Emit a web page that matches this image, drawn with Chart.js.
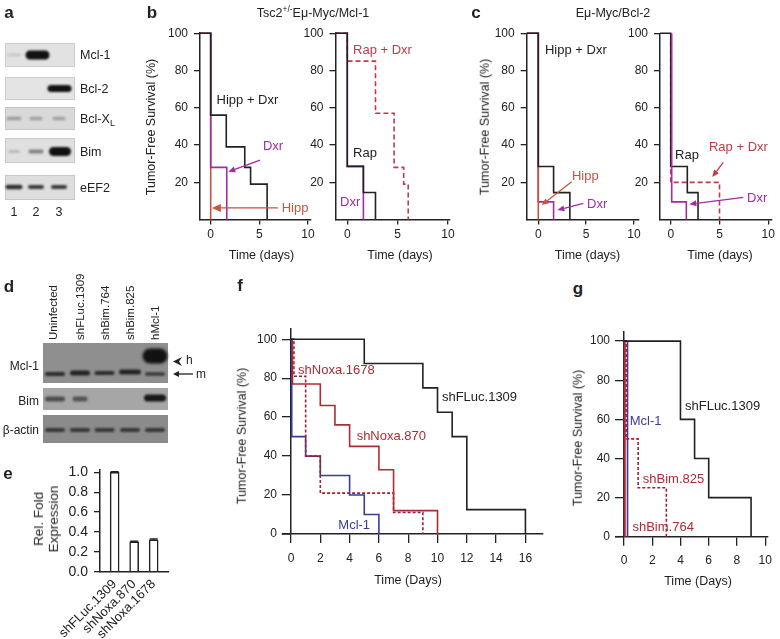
<!DOCTYPE html>
<html><head><meta charset="utf-8">
<script src="https://cdn.jsdelivr.net/npm/chart.js@4.4.1/dist/chart.umd.min.js"></script>
<style>
html,body{margin:0;padding:0;background:#fff;}
#root{position:relative;width:780px;height:639px;overflow:hidden;background:#fff;font-family:'Liberation Sans',Arial,Helvetica,sans-serif;color:#222;}
#root canvas{position:absolute;}
.t{position:absolute;white-space:nowrap;line-height:1;}
sub,sup{line-height:0;}
</style></head><body><div id="root"></div>
<script>
// ================= DATA =================
// Kaplan-Meier steps: times (days) at which survival changes, and survival (%) after each change
// Panel b, left (Tsc2+/- Eμ-Myc/Mcl-1)
const bL_hipp_t    = [0, 0];                         const bL_hipp_s    = [100, 0];
const bL_dxr_t     = [0, 0, 1.65];                   const bL_dxr_s     = [100, 28, 0];
const bL_hippDxr_t = [0, 0, 1.6, 3.5, 4.1, 5.8];     const bL_hippDxr_s = [100, 56, 39, 28, 19, 0];
// Panel b, right
const bR_dxr_t     = [0, 0, 1.6];                    const bR_dxr_s     = [100, 28.5, 0];
const bR_rap_t     = [0, 0, 1.6, 2.8];               const bR_rap_s     = [100, 28.5, 14.5, 0];
const bR_rapDxr_t  = [0, 0, 2.8, 4.65, 5.6, 6.05];   const bR_rapDxr_s  = [100, 85, 57, 28, 19, 0];
// Panel c, left (Eμ-Myc/Bcl-2)
const cL_dxr_t     = [0, 0, 1.6];                    const cL_dxr_s     = [100, 9.5, 0];
const cL_hipp_t    = [0, 0];                         const cL_hipp_s    = [100, 0];
const cL_hippDxr_t = [0, 0, 1.6, 3.3];               const cL_hippDxr_s = [100, 28.5, 14.5, 0];
// Panel c, right
const cR_rapDxr_t  = [0, 0, 5.0];                    const cR_rapDxr_s  = [100, 20, 0];
const cR_rap_t     = [0, 0, 1.7, 2.8];               const cR_rap_s     = [100, 28.5, 14.5, 0];
const cR_dxr_t     = [0.1, 0.1, 1.6];                const cR_dxr_s     = [100, 9.5, 0];
// Panel f
const f_fluc_t  = [0, 5, 9, 10, 11, 12, 16];         const f_fluc_s  = [100, 87.5, 75, 62.5, 50, 12.5, 0];
const f_n870_t  = [0, 0.1, 2, 3, 4, 6, 7, 10];       const f_n870_s  = [100, 77, 66, 56, 45, 33, 12, 0];
const f_n1678_t = [0, 0.2, 1, 2, 7, 9];              const f_n1678_s = [100, 81, 40, 21, 11, 0];
const f_mcl_t   = [0, 0.05, 1, 2, 4, 5, 6];          const f_mcl_s   = [100, 50, 40, 30, 20, 10, 0];
// Panel g
const g_fluc_t  = [0, 4, 5, 6, 9];                   const g_fluc_s  = [100, 60, 40, 20, 0];
const g_b825_t  = [0, 0.15, 1, 3];                   const g_b825_s  = [100, 50, 25, 0];
const g_mcl_t   = [0, 0.25];                         const g_mcl_s   = [100, 0];
const g_b764_t  = [0, 0.05];                         const g_b764_s  = [100, 0];
// Panel e
const e_cats = ['shFLuc.1309', 'shNoxa.870', 'shNoxa.1678'];
const e_vals = [1.0, 0.30, 0.32];
const e_errs = [0.006, 0.006, 0.008];
// Tick labels
const bcXTicks = [0, 5, 10];
const bcYTicks = [20, 40, 60, 80, 100];
const fXTicks  = [0, 2, 4, 6, 8, 10, 12, 14, 16];
const gXTicks  = [0, 2, 4, 6, 8, 10];
const fgYTicks = [0, 20, 40, 60, 80, 100];
const eYTicks  = [0, 0.2, 0.4, 0.6, 0.8, 1.0];

// ================= STYLE =================
const FONT = "'Liberation Sans', Arial, Helvetica, sans-serif";
Chart.defaults.font.family = FONT;
const COL = {k:'#222', mag:'#a22ca0', hipp:'#c5553f', rd:'#c23a47', red:'#ad2b34', redd:'#9e2236', blue:'#3b3b99'};
const root = document.getElementById('root');

function T(html, x, y, o = {}) {
  const d = document.createElement('div');
  d.className = 't'; d.innerHTML = html;
  d.style.left = x + 'px'; d.style.top = y + 'px';
  d.style.fontSize = (o.size || 12.5) + 'px';
  if (o.bold) d.style.fontWeight = 'bold';
  if (o.color) d.style.color = o.color;
  if (o.lh) d.style.lineHeight = o.lh;
  if (o.ta) d.style.textAlign = o.ta;
  let tr = 'translate(-50%,-50%)';
  if (o.rot) tr = 'translate(-50%,-50%) rotate(-90deg)';
  else if (o.align === 'left') tr = 'translate(0,-50%)';
  else if (o.align === 'right') tr = 'translate(-100%,-50%)';
  if (o.tr) { tr = o.tr; d.style.transformOrigin = '0 0'; }
  d.style.transform = tr;
  root.appendChild(d);
}

function mkCanvas(b) {
  const cv = document.createElement('canvas');
  cv.width = b.w; cv.height = b.h;
  cv.style.left = b.x + 'px'; cv.style.top = b.y + 'px';
  cv.style.width = b.w + 'px'; cv.style.height = b.h + 'px';
  root.appendChild(cv);
  return cv;
}

function arrow(ctx, x1, y1, x2, y2, color, hl, hw) {
  const ang = Math.atan2(y2 - y1, x2 - x1);
  const bx = x2 - hl * Math.cos(ang), by = y2 - hl * Math.sin(ang);
  ctx.strokeStyle = color; ctx.fillStyle = color; ctx.lineWidth = 1.3;
  ctx.beginPath(); ctx.moveTo(x1, y1); ctx.lineTo(bx, by); ctx.stroke();
  ctx.beginPath(); ctx.moveTo(x2, y2);
  ctx.lineTo(bx + hw * Math.sin(ang), by - hw * Math.cos(ang));
  ctx.lineTo(bx - hw * Math.sin(ang), by + hw * Math.cos(ang));
  ctx.closePath(); ctx.fill();
}

function notesPlugin(spec) {
  return {
    id: 'notes',
    afterDraw(chart) {
      const {ctx, chartArea} = chart; const X = chart.scales.x, Y = chart.scales.y;
      ctx.save();
      if (spec.xExt) {
        ctx.strokeStyle = COL.k; ctx.lineWidth = 1.5;
        ctx.beginPath(); ctx.moveTo(chartArea.left - spec.xExt, chartArea.bottom); ctx.lineTo(chartArea.left, chartArea.bottom); ctx.stroke();
      }
      (spec.arrows || []).forEach(a => arrow(ctx, X.getPixelForValue(a.x1), Y.getPixelForValue(a.y1), X.getPixelForValue(a.x2), Y.getPixelForValue(a.y2), a.color, a.hl || 7, a.hw || 3));
      (spec.notes || []).forEach(n => {
        ctx.font = (n.size || 13) + 'px ' + FONT; ctx.fillStyle = n.color;
        ctx.textAlign = 'left'; ctx.textBaseline = 'middle';
        ctx.fillText(n.text, X.getPixelForValue(n.x), Y.getPixelForValue(n.y));
      });
      if (spec.after) spec.after(chart, ctx);
      ctx.restore();
    }
  };
}

function axisOpts(tl, pad, size, w, fitFn, ticksArr, fmt) {
  return {
    afterBuildTicks: s => { s.ticks = ticksArr.map(v => ({value: v})); },
    afterFit: fitFn,
    grid: {display: true, drawOnChartArea: false, drawTicks: true, tickLength: tl, color: COL.k, lineWidth: 1.3},
    border: {display: true, color: COL.k, width: w || 1.5},
    ticks: {color: COL.k, font: {size: size || 12}, padding: pad, maxRotation: 0, minRotation: 0, autoSkip: false, callback: fmt || (v => String(v))}
  };
}

function km(spec) {
  const b = spec.box, a = spec.area;
  const cv = mkCanvas(b);
  const datasets = spec.series.map(s => {
    const pts = s.t.map((t, j) => ({x: t, y: s.s[j]}));
    if (s.fromAxis) pts.unshift({x: spec.xMin, y: s.s[0]});
    return {data: pts, borderColor: s.color, borderWidth: s.width || 1.6, borderDash: s.dash || [],
      stepped: 'before', pointRadius: 0, pointHoverRadius: 0, fill: false, tension: 0, clip: false,
      order: s.order, borderCapStyle: 'butt', borderJoinStyle: 'miter'};
  });
  const xo = axisOpts(spec.xtl, spec.xpad, 12, 1.5, s => { s.height = b.y + b.h - a.b; }, spec.xTicks);
  const yo = axisOpts(spec.ytl, spec.ypad, 12, 1.5, s => { s.width = a.l - b.x; }, spec.yTicks);
  return new Chart(cv, {
    type: 'line', data: {datasets},
    options: {
      responsive: false, animation: false, devicePixelRatio: 1, events: [],
      layout: {padding: {left: 0, top: a.t - b.y, right: b.x + b.w - a.r, bottom: 0}},
      plugins: {legend: {display: false}, tooltip: {enabled: false}},
      scales: {
        x: Object.assign({type: 'linear', min: spec.xMin, max: spec.xMax}, xo),
        y: Object.assign({type: 'linear', min: spec.yMin, max: spec.yMax}, yo)
      }
    },
    plugins: [notesPlugin(spec)]
  });
}

// ================= BLOTS (panels a, d) =================
(function blots() {
  const cv = mkCanvas({x: 0, y: 0, w: 215, h: 450});
  const g = cv.getContext('2d');
  function box(x, y, w, h, bg, border) {
    g.fillStyle = bg; g.fillRect(x, y, w, h);
    if (border) { g.strokeStyle = border; g.lineWidth = 1; g.strokeRect(x + 0.5, y + 0.5, w - 1, h - 1); }
  }
  function band(cx, cy, w, h, alpha, blur) {
    g.save(); g.filter = 'blur(' + (blur || 1.1) + 'px)'; g.globalAlpha = alpha;
    g.strokeStyle = '#111'; g.lineCap = 'round'; g.lineWidth = h;
    g.beginPath(); g.moveTo(cx - w / 2 + h / 2, cy); g.lineTo(cx + w / 2 - h / 2 + 0.01, cy); g.stroke();
    g.restore();
  }
  // panel a
  box(5, 43, 70, 24, '#e2e2e2', '#cdcdcd'); band(14, 55, 14, 3, 0.12); band(37.5, 55, 24, 9, 1);
  box(5, 77, 70, 23, '#e4e4e4', '#cdcdcd'); band(59.5, 88.5, 24, 7, 1);
  box(5, 107, 70, 23, '#d9d9d9', '#c6c6c6'); band(14, 118.5, 15, 3.5, 0.3); band(36, 118.5, 13, 3.5, 0.28); band(59, 118.5, 13, 3.5, 0.28);
  box(5, 138, 70, 25, '#e0e0e0', '#cacaca'); band(14, 151.5, 12, 3, 0.18); band(36, 151.5, 15, 4, 0.45); band(60, 151.5, 22, 9, 1);
  box(5, 175, 70, 25, '#dedede', '#c8c8c8'); band(14, 187, 17, 4.5, 0.85); band(36, 187, 16, 4, 0.8); band(59, 187, 16, 4, 0.8);
  // panel d
  box(43, 343, 125, 40, '#8f8f8f'); band(55, 374, 20, 4, 0.8); band(80, 373, 20, 5, 0.85); band(104.5, 373, 20, 4, 0.8); band(130, 372, 22, 5, 0.85); band(155, 374, 20, 3.5, 0.7);
  band(155, 356, 25, 15, 1, 1.6);
  box(43, 388, 125, 22, '#a6a6a6'); band(55, 399, 20, 5, 0.6); band(80, 399, 15, 5, 0.55); band(155, 398, 22, 7, 0.95);
  box(43, 415, 125, 28, '#8b8b8b'); [55, 80, 104.5, 130, 155].forEach(x => band(x, 430, 20, 4, 0.7));
  // h / m markers
  g.fillStyle = COL.k;
  g.beginPath(); g.moveTo(173, 361.5); g.lineTo(182, 357); g.lineTo(179, 361.5); g.lineTo(182, 366); g.closePath(); g.fill();
  arrow(g, 193, 374, 173, 374, COL.k, 6, 3);
})();

// ================= KM CHARTS =================
const bcCommon = {yMin: 0, yMax: 100, xTicks: bcXTicks, yTicks: bcYTicks, xtl: 5, xpad: 3, ytl: 6, ypad: 6};

km(Object.assign({}, bcCommon, {
  box: {x: 150, y: 20, w: 175, h: 230}, area: {l: 200, r: 311, t: 33, b: 219.5}, xMin: -1.1, xMax: 10.31,
  series: [
    {t: bL_hippDxr_t, s: bL_hippDxr_s, color: COL.k, order: 0, fromAxis: true},
    {t: bL_dxr_t, s: bL_dxr_s, color: COL.mag, order: 1, fromAxis: true},
    {t: bL_hipp_t, s: bL_hipp_s, color: COL.hipp, order: 2, fromAxis: true}
  ],
  notes: [
    {x: 0.6, y: 64, text: 'Hipp + Dxr', color: COL.k},
    {x: 5.37, y: 39, text: 'Dxr', color: COL.mag},
    {x: 7.3, y: 6.2, text: 'Hipp', color: COL.hipp}
  ],
  arrows: [
    {x1: 5.07, y1: 31.9, x2: 1.81, y2: 25.6, color: COL.mag},
    {x1: 6.9, y1: 6.2, x2: 0.12, y2: 6.2, color: COL.hipp, hl: 9, hw: 4}
  ]
}));

km(Object.assign({}, bcCommon, {
  box: {x: 295, y: 20, w: 170, h: 230}, area: {l: 335.5, r: 449.5, t: 33, b: 219.5}, xMin: -1.17, xMax: 10.15,
  series: [
    {t: bR_rap_t, s: bR_rap_s, color: COL.k, order: 0, fromAxis: true},
    {t: bR_dxr_t, s: bR_dxr_s, color: COL.mag, order: 1, fromAxis: true},
    {t: bR_rapDxr_t, s: bR_rapDxr_s, color: COL.rd, dash: [5, 3], order: 2, fromAxis: true}
  ],
  notes: [
    {x: 0.57, y: 90.9, text: 'Rap + Dxr', color: COL.rd},
    {x: 0.57, y: 35.7, text: 'Rap', color: COL.k},
    {x: -0.72, y: 9.4, text: 'Dxr', color: COL.mag}
  ]
}));

km(Object.assign({}, bcCommon, {
  box: {x: 485, y: 20, w: 165, h: 230}, area: {l: 526.7, r: 638.3, t: 33.3, b: 219.6}, xMin: -1.21, xMax: 10.45,
  series: [
    {t: cL_hippDxr_t, s: cL_hippDxr_s, color: COL.k, order: 0, fromAxis: true},
    {t: cL_hipp_t, s: cL_hipp_s, color: COL.hipp, order: 1, fromAxis: true},
    {t: cL_dxr_t, s: cL_dxr_s, color: COL.mag, order: 2, fromAxis: true}
  ],
  notes: [
    {x: 0.7, y: 90.9, text: 'Hipp + Dxr', color: COL.k},
    {x: 3.52, y: 23, text: 'Hipp', color: COL.hipp},
    {x: 5.09, y: 8.4, text: 'Dxr', color: COL.mag}
  ],
  arrows: [
    {x1: 3.49, y1: 20.3, x2: 0.36, y2: 7.8, color: COL.hipp},
    {x1: 4.71, y1: 8.7, x2: 1.99, y2: 5.1, color: COL.mag}
  ]
}));

km(Object.assign({}, bcCommon, {
  box: {x: 620, y: 20, w: 160, h: 230}, area: {l: 660, r: 771.7, t: 33.3, b: 219.6}, xMin: -1.1, xMax: 10.35,
  series: [
    {t: cR_dxr_t, s: cR_dxr_s, color: COL.mag, order: 0, fromAxis: false},
    {t: cR_rap_t, s: cR_rap_s, color: COL.k, order: 1, fromAxis: true},
    {t: cR_rapDxr_t, s: cR_rapDxr_s, color: COL.rd, dash: [5, 3], order: 2, fromAxis: false}
  ],
  notes: [
    {x: 0.44, y: 34.6, text: 'Rap', color: COL.k},
    {x: 3.92, y: 39, text: 'Rap + Dxr', color: COL.rd},
    {x: 7.82, y: 11.5, text: 'Dxr', color: COL.mag}
  ],
  arrows: [
    {x1: 5.39, y1: 30.7, x2: 4.26, y2: 22.9, color: COL.rd},
    {x1: 7.44, y1: 11.9, x2: 1.91, y2: 8.3, color: COL.mag}
  ]
}));

km({
  box: {x: 245, y: 315, w: 315, h: 290}, area: {l: 291, r: 543, t: 328.3, b: 534},
  xMin: 0, xMax: 17.2, yMin: 0, yMax: 105.6, xTicks: fXTicks, yTicks: fgYTicks,
  xtl: 9, xpad: 8, ytl: 9, ypad: 5, xExt: 9.3,
  series: [
    {t: f_fluc_t, s: f_fluc_s, color: COL.k, order: 0},
    {t: f_n870_t, s: f_n870_s, color: COL.red, order: 1},
    {t: f_n1678_t, s: f_n1678_s, color: COL.redd, dash: [3, 2], order: 2},
    {t: f_mcl_t, s: f_mcl_s, color: COL.blue, order: 3}
  ],
  notes: [
    {x: 0.48, y: 84.1, text: 'shNoxa.1678', color: COL.red},
    {x: 10.3, y: 70.3, text: 'shFLuc.1309', color: COL.k},
    {x: 4.48, y: 49.9, text: 'shNoxa.870', color: COL.red},
    {x: 3.23, y: 4.6, text: 'Mcl-1', color: COL.blue}
  ]
});

km({
  box: {x: 575, y: 318, w: 205, h: 290}, area: {l: 624, r: 772, t: 331.7, b: 536.7},
  xMin: 0, xMax: 10.19, yMin: 0, yMax: 104.8, xTicks: gXTicks, yTicks: fgYTicks,
  xtl: 9, xpad: 8, ytl: 9, ypad: 5, xExt: 9,
  series: [
    {t: g_fluc_t, s: g_fluc_s, color: COL.k, order: 0},
    {t: g_b825_t, s: g_b825_s, color: COL.redd, dash: [3, 2], order: 1},
    {t: g_mcl_t, s: g_mcl_s, color: COL.blue, order: 2},
    {t: g_b764_t, s: g_b764_s, color: COL.red, width: 2.2, order: 3}
  ],
  notes: [
    {x: 4.32, y: 66.4, text: 'shFLuc.1309', color: COL.k},
    {x: 0.41, y: 58.8, text: 'Mcl-1', color: COL.blue},
    {x: 1.33, y: 29.3, text: 'shBim.825', color: COL.red},
    {x: 0.6, y: 4.6, text: 'shBim.764', color: COL.red}
  ]
});

// ================= BAR CHART (panel e) =================
(function barE() {
  const b = {x: 30, y: 455, w: 150, h: 184}, a = {l: 100, r: 168.3, t: 469.8, b: 571.7};
  const cv = mkCanvas(b);
  const yo = axisOpts(6, 6, 14, 1.5, s => { s.width = a.l - b.x; }, eYTicks, v => v.toFixed(1));
  new Chart(cv, {
    type: 'bar',
    data: {datasets: [{data: e_cats.map((c, i) => ({x: i, y: e_vals[i]})), backgroundColor: '#fff',
      borderColor: COL.k, borderWidth: 1.5, barThickness: 9, borderSkipped: 'start'}]},
    options: {
      responsive: false, animation: false, devicePixelRatio: 1, events: [],
      layout: {padding: {left: 0, top: a.t - b.y, right: b.x + b.w - a.r, bottom: 0}},
      plugins: {legend: {display: false}, tooltip: {enabled: false}},
      scales: {
        x: {type: 'linear', min: -0.75, max: 2.75, offset: false,
          afterBuildTicks: s => { s.ticks = e_cats.map((c, i) => ({value: i})); },
          afterFit: s => { s.height = b.y + b.h - a.b; },
          grid: {display: false, drawTicks: false, offset: false},
          border: {display: true, color: COL.k, width: 1.5},
          ticks: {color: COL.k, font: {size: 13}, minRotation: 45, maxRotation: 45, padding: 5, autoSkip: false,
            callback: v => e_cats[v]}},
        y: Object.assign({type: 'linear', min: 0, max: 1.025}, yo)
      }
    },
    plugins: [notesPlugin({after: (chart, ctx) => {
      const X = chart.scales.x, Y = chart.scales.y;
      ctx.strokeStyle = COL.k; ctx.lineWidth = 1.5;
      e_vals.forEach((v, i) => {
        const px = X.getPixelForValue(i), p0 = Y.getPixelForValue(v), p1 = Y.getPixelForValue(v + e_errs[i]);
        ctx.beginPath(); ctx.moveTo(px, p0); ctx.lineTo(px, p1); ctx.moveTo(px - 4, p1); ctx.lineTo(px + 4, p1); ctx.stroke();
      });
    }})]
  });
})();

// ================= TEXT =================
// panel letters
T('a', 9, 12, {size: 17, bold: true});
T('b', 152, 12, {size: 17, bold: true});
T('c', 476, 12, {size: 17, bold: true});
T('d', 9, 286, {size: 17, bold: true});
T('e', 8, 473, {size: 17, bold: true});
T('f', 240, 285, {size: 17, bold: true});
T('g', 578, 288, {size: 17, bold: true});
// panel a
T('Mcl-1', 80, 55, {align: 'left'});
T('Bcl-2', 80, 88.5, {align: 'left'});
T('Bcl-X<sub style="font-size:9px">L</sub>', 80, 119, {align: 'left'});
T('Bim', 80, 151.5, {align: 'left'});
T('eEF2', 80, 188, {align: 'left'});
T('1', 14, 212); T('2', 36, 212); T('3', 59, 212);
// titles b, c
T('Tsc2<sup style="font-size:8.5px">+/-</sup>Eμ-Myc/Mcl-1', 313, 13);
T('Eμ-Myc/Bcl-2', 613, 13);
T('Tumor-Free Survival (%)', 151, 127, {rot: true});
T('Tumor-Free Survival (%)', 485, 127, {rot: true});
T('Time (days)', 261.5, 255); T('Time (days)', 400, 255);
T('Time (days)', 587.5, 255); T('Time (days)', 720, 255);
// panel d
['Uninfected', 'shFLuc.1309', 'shBim.764', 'shBim.825', 'hMcl-1'].forEach((s, i) => {
  const cx = [53.5, 80, 105, 130, 155][i];
  T(s, cx - 5.5, 340, {size: 11.5, tr: 'rotate(-90deg)'});
});
T('Mcl-1', 39, 365.5, {size: 12, align: 'right'});
T('Bim', 39, 401, {size: 12, align: 'right'});
T('β-actin', 39, 429.5, {size: 12, align: 'right'});
T('h', 186, 359.5, {size: 12, align: 'left'});
T('m', 196, 374, {size: 12, align: 'left'});
// panel e
T('Rel. Fold<br>Expression', 46, 519, {rot: true, size: 13.5, lh: '1.12', ta: 'center'});
// panels f, g
T('Tumor-Free Survival (%)', 242, 436, {rot: true});
T('Time (Days)', 408, 580);
T('Tumor-Free Survival (%)', 577.5, 438, {rot: true});
T('Time (Days)', 698, 581);
</script>
</body></html>
